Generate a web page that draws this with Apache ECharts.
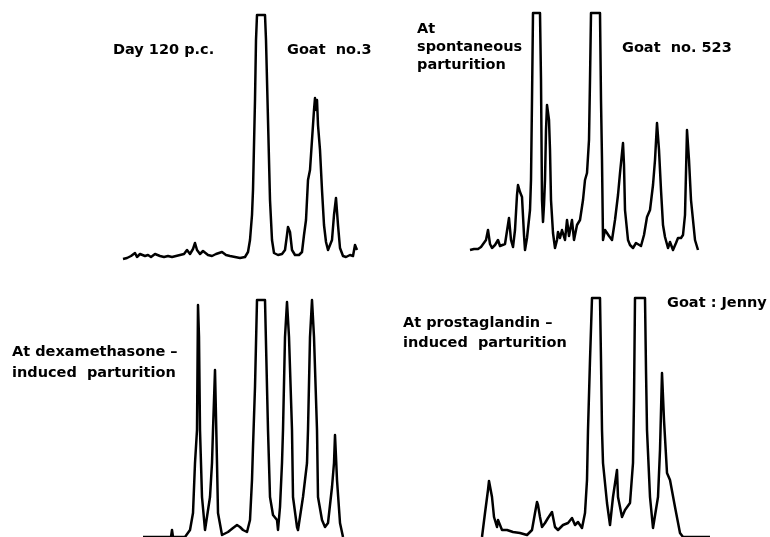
<!DOCTYPE html>
<html>
<head>
<meta charset="utf-8">
<script src="https://cdn.jsdelivr.net/npm/echarts@6/dist/echarts.min.js"></script>
<style>
html,body{margin:0;padding:0;background:#fff;}
#chart{width:770px;height:537px;}
</style>
</head>
<body>
<div id="chart"></div>
<script>
// Chromatogram traces: [retention (arbitrary units), detector signal (arbitrary units)]
const day120Trace = [
  [0,0],[4,1],[8,3],[12,6],[14,2],[17,5],[19,7],[22,3],[25,4],[28,2],[32,5],[34,7],[37,3],[41,2],
  [45,3],[49,2],[53,3],[57,4],[61,5],[64,9],[67,5],[70,10],[72,16],[74,9],[77,5],[80,8],[82,9],
  [85,4],[89,3],[93,5],[96,6],[99,7],[103,4],[107,3],[112,2],[117,1],[122,2],[125,7],[127,19],
  [129,44],[130,69],[132,159],[133,219],[134,244],[142,244],[143,219],[145,139],[147,59],[149,19],
  [151,6],[155,4],[159,5],[162,9],[164,24],[165,32],[167,27],[169,9],[172,4],[176,4],[179,7],
  [181,24],[183,39],[185,79],[187,89],[189,119],[191,149],[192,161],[193,149],[194,159],[195,134],
  [197,109],[199,69],[201,34],[203,17],[205,9],[207,7],[209,19],[211,44],[213,61],[214,59],[215,34],
  [217,11],[220,3],[223,2],[227,4],[230,3],[232,14],[234,9]
];
const spontaneousTrace = [
  [0,0],[4,1],[8,1],[11,3],[13,3],[16,10],[18,20],[20,6],[22,2],[25,5],[28,10],[30,4],[32,2],[35,6],
  [37,8],[39,32],[41,10],[43,3],[45,20],[47,55],[48,65],[50,58],[52,53],[54,15],[55,0],[57,12],
  [60,40],[61,70],[62,150],[63,237],[70,237],[71,170],[72,50],[73,28],[74,45],[75,70],[76,120],
  [77,145],[79,130],[80,100],[81,50],[83,17],[85,2],[87,10],[88,18],[90,12],[92,20],[95,10],[97,30],
  [99,14],[100,12],[102,30],[104,10],[105,10],[107,25],[110,30],[113,50],[115,70],[117,77],[119,110],
  [120,170],[121,237],[130,237],[131,150],[132,90],[133,10],[135,20],[137,20],[139,14],[142,10],
  [145,30],[148,55],[150,77],[151,75],[153,107],[154,85],[155,40],[158,10],[160,5],[163,2],[166,7],
  [168,8],[171,4],[174,15],[177,33],[180,40],[183,65],[185,90],[187,127],[189,100],[191,60],[193,25],
  [195,13],[198,2],[200,8],[203,0],[206,7],[208,12],[211,12],[213,15],[215,35],[217,120],[219,90],
  [221,50],[223,30],[225,10],[228,0]
];
const dexamethasoneTrace = [
  [0,0],[20,0],[28,0],[29,7],[30,0],[42,0],[44,2],[47,7],[50,24],[52,74],[54,107],[55,232],[56,200],
  [57,107],[59,40],[62,7],[64,7],[67,40],[69,74],[70,107],[72,167],[74,74],[75,24],[79,2],[85,5],
  [90,9],[94,12],[97,10],[100,7],[104,5],[107,17],[109,57],[110,90],[112,150],[114,237],[122,237],
  [124,150],[125,107],[127,40],[130,22],[134,17],[135,7],[137,30],[139,74],[140,107],[142,200],
  [144,235],[146,200],[149,107],[150,40],[154,10],[155,7],[160,40],[164,74],[165,107],[167,200],
  [169,237],[171,200],[174,107],[175,40],[179,17],[182,10],[185,14],[189,50],[191,74],[192,102],
  [193,80],[194,57],[197,14],[200,0]
];
const prostaglandinTrace = [
  [0,0],[3,24],[6,47],[7,56],[10,40],[12,20],[15,10],[16,17],[18,17],[20,7],[25,7],[28,6],[31,5],
  [38,4],[45,2],[50,7],[53,24],[55,35],[56,32],[58,20],[60,10],[63,14],[66,19],[70,25],[73,10],
  [76,7],[81,12],[86,14],[90,19],[93,12],[96,15],[100,9],[103,24],[105,57],[106,107],[108,177],
  [110,239],[118,239],[119,177],[120,107],[121,74],[125,34],[128,12],[131,40],[135,67],[136,40],
  [140,20],[143,27],[148,34],[151,74],[152,137],[153,239],[163,239],[164,167],[165,107],[168,40],
  [171,9],[173,10],[176,40],[178,87],[180,164],[182,117],[185,64],[188,57],[193,30],[198,4],
  [201,0],[228,0]
];
const panelLabels = [
  ["Day 120 p.c."],
  ["At", "spontaneous", "parturition"],
  ["At dexamethasone –", "induced  parturition"],
  ["At prostaglandin –", "induced  parturition"]
];
const goatLabels = ["Goat  no.3", "Goat  no. 523", "Goat : Jenny"];

const traces = [day120Trace, spontaneousTrace, dexamethasoneTrace, prostaglandinTrace];
// panel layout (pixels): left, top, width, height, x-range, y-range
const panels = [
  {left:123, top:15, width:234, height:244, xMax:234, yMax:244},
  {left:470, top:13, width:228, height:237, xMax:228, yMax:237},
  {left:143, top:300, width:200, height:237, xMax:200, yMax:237},
  {left:482, top:298, width:228, height:239, xMax:228, yMax:239}
];

const FONT = 'bold 14.5px "DejaVu Sans", sans-serif';
function textEl(str, x, y) {
  return {type:'text', style:{text:str, x:x, y:y, font:FONT, fill:'#000', textVerticalAlign:'middle', textBaseline:'middle'}};
}
const graphics = [
  textEl(panelLabels[0][0], 113, 50),
  textEl(goatLabels[0], 287, 50),
  textEl(panelLabels[1][0], 417, 29),
  textEl(panelLabels[1][1], 417, 47),
  textEl(panelLabels[1][2], 417, 65),
  textEl(goatLabels[1], 622, 48),
  textEl(panelLabels[2][0], 12, 352),
  textEl(panelLabels[2][1], 12, 373),
  textEl(panelLabels[3][0], 403, 323),
  textEl(panelLabels[3][1], 403, 343),
  textEl(goatLabels[2], 667, 303)
];

const chart = echarts.init(document.getElementById('chart'), null, {renderer:'canvas'});
chart.setOption({
  animation:false,
  backgroundColor:'#fff',
  grid: panels.map(p => ({left:p.left, top:p.top, width:p.width, height:p.height, containLabel:false})),
  xAxis: panels.map((p,i) => ({type:'value', gridIndex:i, min:0, max:p.xMax, show:false})),
  yAxis: panels.map((p,i) => ({type:'value', gridIndex:i, min:0, max:p.yMax, show:false})),
  series: traces.map((t,i) => ({
    type:'line', xAxisIndex:i, yAxisIndex:i, data:t, showSymbol:false, clip:false,
    lineStyle:{color:'#000', width:2.5, join:'round'}
  })),
  graphic: graphics
});
</script>
</body>
</html>
